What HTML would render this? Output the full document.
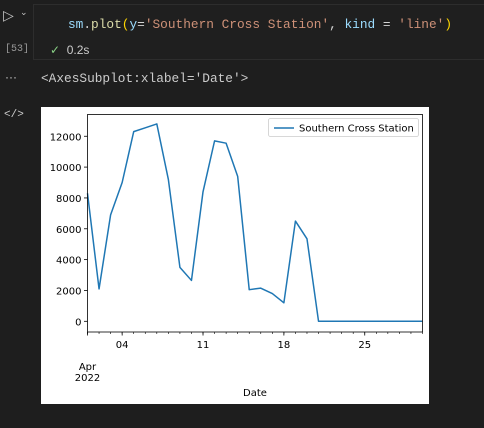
<!DOCTYPE html>
<html><head><meta charset="utf-8"><style>
body{margin:0;width:484px;height:428px;background:#1e1e1e;overflow:hidden;position:relative;font-family:"Liberation Sans",sans-serif}
.mono{font-family:"Liberation Mono","DejaVu Sans Mono",monospace}
svg text{font-family:"DejaVu Sans","Liberation Sans",sans-serif}
</style></head><body>
<div style="position:absolute;left:3px;top:7px;color:#c5c5c5;font-size:14px">▷</div>
<div style="position:absolute;left:20px;top:7px;color:#c5c5c5;font-size:9px">⌄</div>
<div style="position:absolute;left:33px;top:4px;width:460px;height:56px;background:#1f1f1f;border:1px solid #2d2d2d;box-sizing:border-box">
<div class="mono" style="position:absolute;left:34px;top:12px;font-size:12.8px;color:#d4d4d4;white-space:pre"><span style="color:#9cdcfe">sm</span>.<span style="color:#dcdcaa">plot</span><span style="color:#ffd700">(</span><span style="color:#9cdcfe">y</span>=<span style="color:#ce9178">'Southern Cross Station'</span>, <span style="color:#9cdcfe">kind</span> = <span style="color:#ce9178">'line'</span><span style="color:#ffd700">)</span></div>
<div style="position:absolute;left:16px;top:38px;font-size:12px;color:#ccc"><span style="color:#89d185">✓</span>&nbsp;&nbsp;0.2s</div>
</div>
<div class="mono" style="position:absolute;left:5px;top:44px;font-size:10px;color:#999">[53]</div>
<div style="position:absolute;left:5px;top:70px;font-size:12px;color:#ccc">···</div>
<div class="mono" style="position:absolute;left:41px;top:71px;font-size:12.8px;color:#ccc">&lt;AxesSubplot:xlabel='Date'&gt;</div>
<div class="mono" style="position:absolute;left:4px;top:109px;font-size:11px;color:#ccc">&lt;/&gt;</div>
<svg id="chart" style="position:absolute;left:41px;top:107px" width="388" height="297"></svg>
<script>
const days=[1,2,3,4,5,6,7,8,9,10,11,12,13,14,15,16,17,18,19,20,21,22,23,24,25,26,27,28,29,30];
const values=[8300,2100,6900,9000,12300,12550,12800,9200,3500,2650,8400,11700,11550,9400,2050,2150,1800,1200,6500,5350,0,0,0,0,0,0,0,0,0,0];
const yTicks=[0,2000,4000,6000,8000,10000,12000];
const xMajor=[4,11,18,25];
const xMajorLabels=["04","11","18","25"];
const seriesName="Southern Cross Station";
const svg=document.getElementById('chart');const NS="http://www.w3.org/2000/svg";
const L=46.5,R=381.5,T=7.5,B=225;
const x=d=>L+(d-1)*(R-L)/29;
const y=v=>214.3-v*0.01542;
function mk(t,a,p){const e=document.createElementNS(NS,t);for(const k in a)e.setAttribute(k,a[k]);(p||svg).appendChild(e);return e;}
const bg=mk('rect',{x:0,y:0,width:388,height:297,fill:'#fff'});


yTicks.forEach(v=>{const g=mk('g',{});


mk('line',{x1:L-3.5,x2:L,y1:y(v),y2:y(v),stroke:'#000','stroke-width':0.8},g);
const t=mk('text',{x:L-6,y:y(v)+4,'text-anchor':'end','font-size':10,fill:'#000'},g);t.textContent=v;});
days.forEach(d=>{const m=mk('line',{x1:x(d),x2:x(d),y1:B,y2:B+2,stroke:'#000','stroke-width':0.6});

});
xMajor.forEach((d,i)=>{const g=mk('g',{});


mk('line',{x1:x(d),x2:x(d),y1:B,y2:B+3.5,stroke:'#000','stroke-width':0.8},g);
const t=mk('text',{x:x(d),y:B+16,'text-anchor':'middle','font-size':10,fill:'#000'},g);t.textContent=xMajorLabels[i];});
const g1=mk('g',{});


mk('line',{x1:x(1),x2:x(1),y1:B,y2:B+3.5,stroke:'#000','stroke-width':0.8},g1);
let t1=mk('text',{x:x(1),y:B+38,'text-anchor':'middle','font-size':10,fill:'#000'},g1);t1.textContent="Apr";
t1=mk('text',{x:x(1),y:B+49,'text-anchor':'middle','font-size':10,fill:'#000'},g1);t1.textContent="2022";
const pl=mk('polyline',{points:days.map((d,i)=>x(d)+','+y(values[i])).join(' '),fill:'none',stroke:'#1f77b4','stroke-width':1.5,'stroke-linejoin':'round'});


const fr=mk('rect',{x:L,y:T,width:R-L,height:B-T,fill:'none',stroke:'#000','stroke-width':0.8});


const xl=mk('text',{x:(L+R)/2,y:289,'text-anchor':'middle','font-size':10,fill:'#000'});xl.textContent="Date";


const lg=mk('g',{});


mk('rect',{x:227.5,y:11.5,width:150,height:18,fill:'#fff',stroke:'#ccc','stroke-width':0.8,rx:2},lg);
mk('line',{x1:233,x2:253,y1:21,y2:21,stroke:'#1f77b4','stroke-width':1.5},lg);
const lt=mk('text',{x:258,y:24.5,'font-size':10,fill:'#000'},lg);lt.textContent=seriesName;
</script>
</body></html>
